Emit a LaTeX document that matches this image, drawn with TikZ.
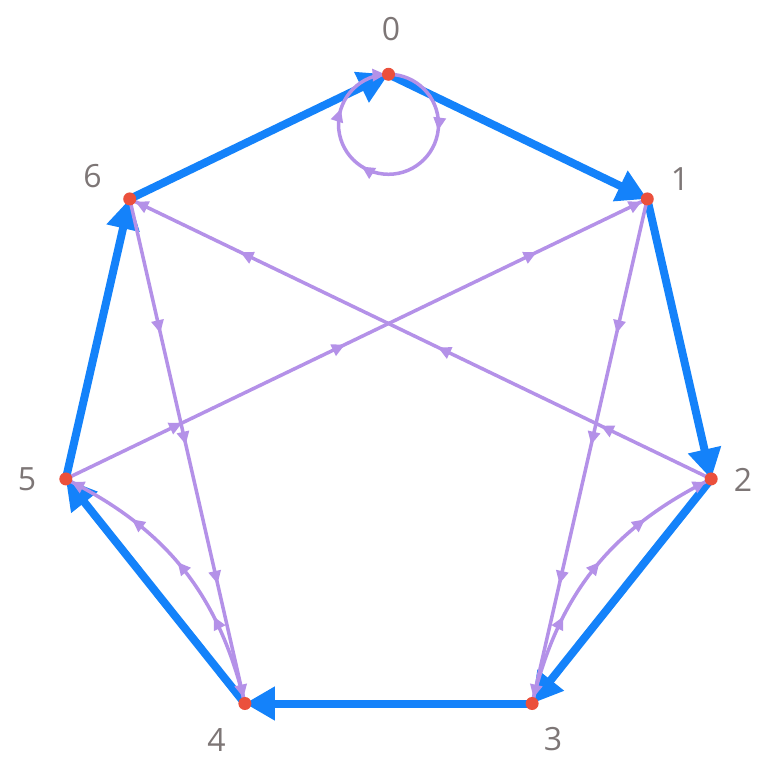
\documentclass[tikz,border=0pt]{standalone}
\usepackage{fontspec}
\setmainfont{Open Sans}
\usetikzlibrary{arrows.meta,decorations.markings,calc}
\definecolor{eblue}{RGB}{20,130,250}
\definecolor{epurp}{RGB}{180,145,232}
\definecolor{vred}{RGB}{235,80,60}
\definecolor{lgray}{RGB}{125,118,118}
\newcommand\purparrow{\arrow{Triangle[length=13pt,width=12pt]}}
\begin{document}
\begin{tikzpicture}[x=1pt,y=1pt,
 bedge/.style={draw=eblue,line width=8pt,-{Triangle[length=30pt,width=32pt]}},
 pedge/.style={draw=epurp,line width=3.5pt},
 pmarks/.style n args={4}{postaction={decorate},decoration={markings,
   mark=at position #1 with {\purparrow},
   mark=at position #2 with {\purparrow},
   mark=at position #3 with {\purparrow},
   mark=at position #4 with {\purparrow}}},
 vdot/.style={circle,fill=vred,inner sep=0pt,minimum size=13pt},
 vlabel/.style={text=lgray,font=\fontsize{32}{36}\selectfont,inner sep=0pt}
]
\fill[white] (0,0) rectangle (768,768);
\useasboundingbox (0,0) rectangle (768,768);
\coordinate (c) at (388.5,362.7);
\foreach \k in {0,...,6}{
  \coordinate (v\k) at ($(c)+({90-\k*360/7}:331)$);
}
% blue cycle
\draw[bedge] (v0) -- (v1);
\draw[bedge] (v1) -- (v2);
\draw[bedge] (v2) -- (v3);
\draw[bedge] (v3) -- (v4);
\draw[bedge] (v4) -- (v5);
\draw[bedge] (v5) -- (v6);
\draw[bedge] (v6) -- (v0);
% purple edges
\draw[pedge,pmarks={0.19}{0.47}{0.81}{-6pt}] (v2) -- (v6);
\draw[pedge,pmarks={0.2}{0.48}{0.81}{-6pt}] (v5) -- (v1);
\draw[pedge,pmarks={0.266}{0.487}{0.763}{-6pt}] (v6) -- (v4);
\draw[pedge,pmarks={0.266}{0.487}{0.763}{-6pt}] (v1) -- (v3);
\draw[pedge,pmarks={0.31}{0.53}{0.74}{-6pt}] (v4) to[bend right=25] (v5);
\draw[pedge,pmarks={0.31}{0.53}{0.74}{-6pt}] (v3) to[bend left=25] (v2);
\draw[pedge,pmarks={0.27}{0.59}{0.8}{-3pt}] (v0) arc[start angle=90,end angle=-270,radius=50];
% vertices
\foreach \k in {0,...,6}{
  \node[vdot] (d\k) at (v\k) {};
}
% labels
\node[vlabel] (l0) at (391,739.3) {0};
\node[vlabel] (l1) at (680,589) {1};
\node[vlabel] (l2) at (743,288) {2};
\node[vlabel] (l3) at (553,29) {3};
\node[vlabel] (l4) at (216.5,28) {4};
\node[vlabel] (l5) at (27,289) {5};
\node[vlabel] (l6) at (92.5,592) {6};
\end{tikzpicture}
\end{document}
